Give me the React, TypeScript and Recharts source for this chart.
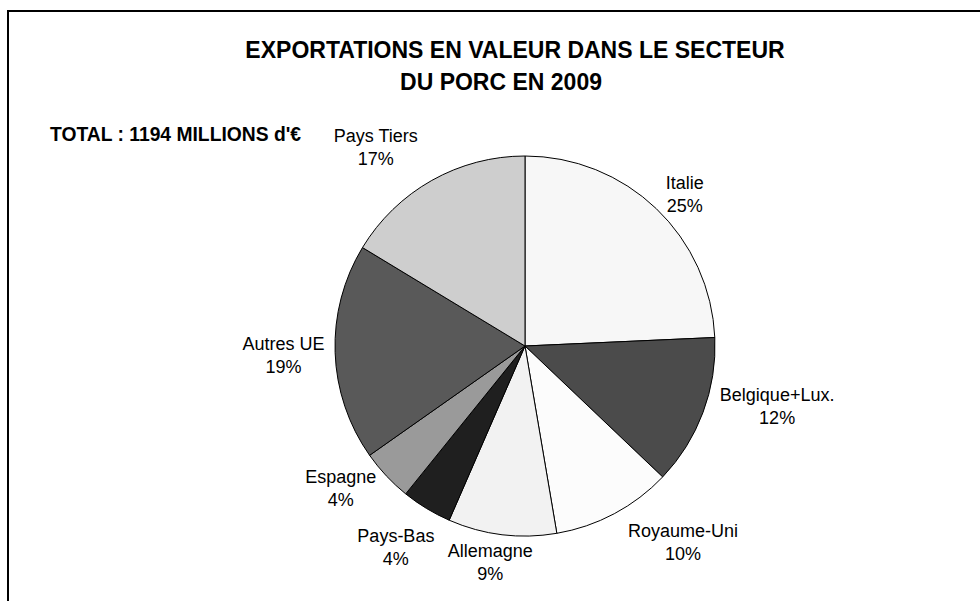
import { PieChart, Pie, Cell } from "recharts";

// export values by destination, millions of €
const countries = [
  "Italie",
  "Belgique+Lux.",
  "Royaume-Uni",
  "Allemagne",
  "Pays-Bas",
  "Espagne",
  "Autres UE",
  "Pays Tiers",
];
const exportValues = [290, 153, 122, 110, 51, 53, 220, 195];
const shareLabels = ["25%", "12%", "10%", "9%", "4%", "4%", "19%", "17%"];

const sliceColors = [
  "#f7f7f7",
  "#4b4b4b",
  "#fcfcfc",
  "#f2f2f2",
  "#1f1f1f",
  "#9a9a9a",
  "#595959",
  "#cecece",
];

const data = countries.map((name, i) => ({
  name,
  value: exportValues[i],
  share: shareLabels[i],
}));

const FONT = "'Liberation Sans', Arial, sans-serif";
const LABEL_SIZE = 18;
const RADIAN = Math.PI / 180;

// small hand tweaks so labels land where the original "best fit" put them
const labelNudge: Record<string, [number, number]> = {
  Italie: [5, 10],
  "Belgique+Lux.": [12, -30],
  "Royaume-Uni": [45, -16],
  Allemagne: [-8, -4],
  "Pays-Bas": [-8, 1],
  Espagne: [-12, -19],
  "Autres UE": [-5, 1],
  "Pays Tiers": [-34, 6],
};

let ctx: CanvasRenderingContext2D | null = null;
const textWidth = (s: string) => {
  if (!ctx) ctx = document.createElement("canvas").getContext("2d");
  if (!ctx) return s.length * 9;
  ctx.font = `${LABEL_SIZE}px ${FONT}`;
  return ctx.measureText(s).width;
};

// label block sits just outside the rim, pushed out by its own half size
const renderLabel = (props: any) => {
  const { cx, cy, midAngle, outerRadius, payload } = props;
  const cos = Math.cos(-midAngle * RADIAN);
  const sin = Math.sin(-midAngle * RADIAN);
  const w = Math.max(textWidth(payload.name), textWidth(payload.share));
  const h = 44;
  const r = outerRadius + 5 + Math.abs(cos) * (w / 2) + Math.abs(sin) * (h / 2);
  const [dx, dy] = labelNudge[payload.name] || [0, 0];
  const x = cx + r * cos + dx;
  const y = cy + r * sin + dy;
  return (
    <g>
      <text x={x} y={y - 5} textAnchor="middle" fontSize={LABEL_SIZE} fontFamily={FONT} fill="#000">
        {payload.name}
      </text>
      <text x={x} y={y + 18} textAnchor="middle" fontSize={LABEL_SIZE} fontFamily={FONT} fill="#000">
        {payload.share}
      </text>
    </g>
  );
};

export default function App() {
  return (
    <div style={{ position: "absolute", left: 0, top: 0, width: 980, height: 601, background: "#fff", overflow: "hidden" }}>
      <div
        style={{
          position: "absolute",
          left: 7,
          top: 10,
          width: 990,
          height: 600,
          borderLeft: "2px solid #000",
          borderTop: "2px solid #000",
        }}
      />
      <svg width={980} height={601} style={{ position: "absolute", left: 0, top: 0 }}>
        <text x={515} y={58} textAnchor="middle" fontSize={23} fontWeight="bold" fontFamily={FONT} fill="#000">
          EXPORTATIONS EN VALEUR DANS LE SECTEUR
        </text>
        <text x={501} y={90} textAnchor="middle" fontSize={23} fontWeight="bold" fontFamily={FONT} fill="#000">
          DU PORC EN 2009
        </text>
        <text x={50} y={141} fontSize={19.3} fontWeight="bold" fontFamily={FONT} fill="#000">
          TOTAL : 1194 MILLIONS d'€
        </text>
      </svg>
      <div style={{ position: "absolute", left: 0, top: 0 }}>
        <PieChart width={980} height={601} margin={{ top: 0, right: 0, bottom: 0, left: 0 }}>
          <Pie
            data={data}
            dataKey="value"
            nameKey="name"
            cx={525}
            cy={346}
            outerRadius={190}
            startAngle={90}
            endAngle={-270}
            stroke="#000"
            strokeWidth={1}
            label={renderLabel}
            labelLine={false}
            isAnimationActive={false}
          >
            {data.map((d, i) => (
              <Cell key={d.name} fill={sliceColors[i]} stroke="#000" />
            ))}
          </Pie>
        </PieChart>
      </div>
    </div>
  );
}
